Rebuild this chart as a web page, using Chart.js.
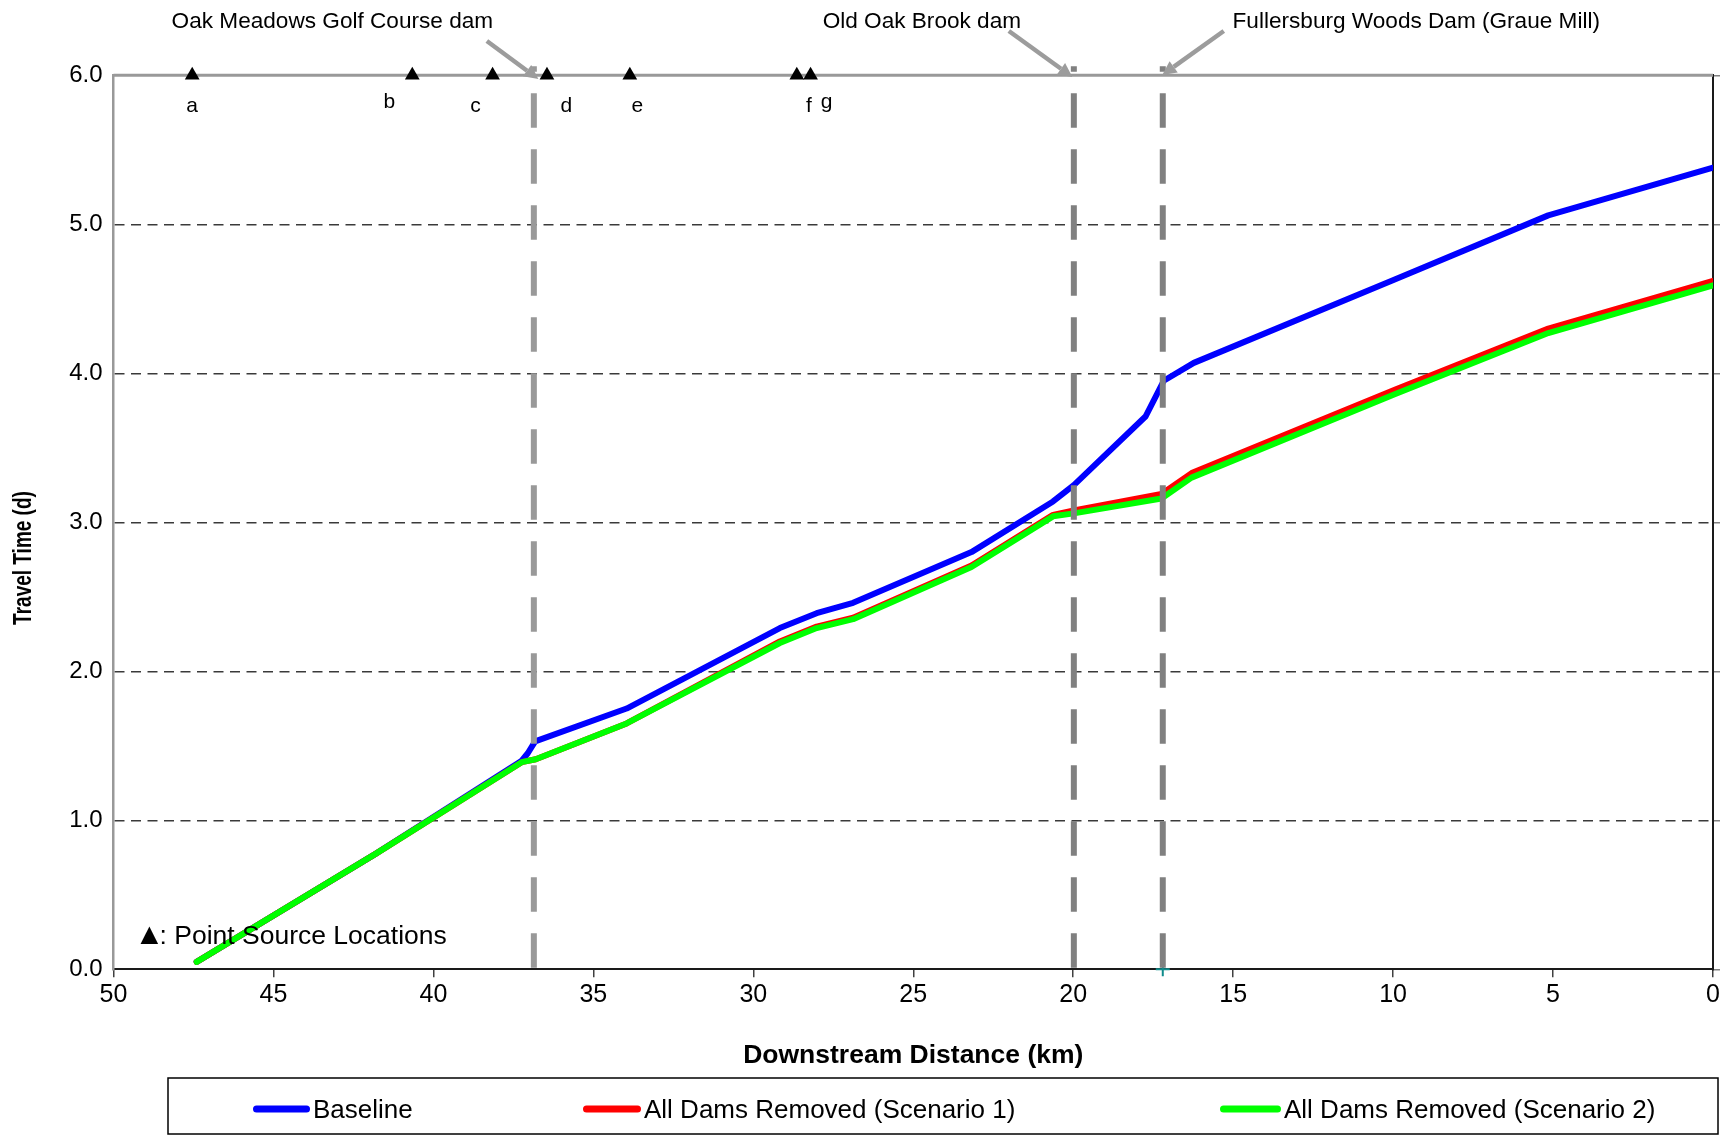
<!DOCTYPE html>
<html>
<head>
<meta charset="utf-8">
<title>Travel Time - Dam Removal Scenarios</title>
<script src="https://cdn.jsdelivr.net/npm/chart.js@4.4.1/dist/chart.umd.min.js"></script>
<style>
    html, body { margin: 0; padding: 0; background: #ffffff; }
    #wrap { width: 1724px; height: 1139px; position: relative; }
</style>
</head>
<body>
<div id="wrap"><canvas id="travelChart"></canvas></div>
<script>
// Travel time along the river: baseline vs. dam removal scenarios

// Baseline (dams in place)
const baselineKm   = [47.4, 41.77, 37.24, 37.05, 36.82, 33.96, 29.17, 28.02, 26.88, 23.18, 20.63, 19.98, 17.74, 17.31, 17.17, 16.23, 9.95, 5.15, 0.0];
const baselineDays = [0.05, 0.78, 1.40, 1.45, 1.53, 1.75, 2.29, 2.39, 2.46, 2.80, 3.14, 3.25, 3.71, 3.89, 3.95, 4.07, 4.63, 5.06, 5.38];

// All dams removed (Scenario 1)
const scen1Km   = [47.4, 41.77, 37.24, 36.8, 33.96, 29.17, 28.02, 26.88, 23.18, 20.63, 19.98, 17.24, 16.3, 9.95, 5.15, 0.0];
const scen1Days = [0.05, 0.78, 1.39, 1.41, 1.65, 2.20, 2.30, 2.36, 2.71, 3.05, 3.08, 3.19, 3.33, 3.89, 4.30, 4.62];

// All dams removed (Scenario 2)
const scen2Km   = [47.4, 41.77, 37.24, 36.8, 33.96, 29.17, 28.02, 26.88, 23.18, 20.63, 19.98, 17.24, 16.3, 9.95, 5.15, 0.0];
const scen2Days = [0.05, 0.78, 1.39, 1.41, 1.65, 2.19, 2.29, 2.35, 2.70, 3.04, 3.06, 3.16, 3.30, 3.86, 4.27, 4.59];

// Point source locations
const sourceKm     = [47.54, 40.66, 38.15, 36.45, 33.86, 28.64, 28.21];
const sourceLabels = ['a', 'b', 'c', 'd', 'e', 'f', 'g'];
const sourceDays   = [6, 6, 6, 6, 6, 6, 6];

// Dams
const damKm    = [36.86, 19.98, 17.2];
const damNames = ['Oak Meadows Golf Course dam', 'Old Oak Brook dam', 'Fullersburg Woods Dam (Graue Mill)'];

// stray marker on the axis at the Fullersburg dam
const markerKm   = [17.2];
const markerDays = [0];

// axis ticks
const xTicks = [50, 45, 40, 35, 30, 25, 20, 15, 10, 5, 0];
const yTicks = [0, 1, 2, 3, 4, 5, 6];

const FONT = "'Liberation Sans', Arial, Helvetica, sans-serif";

function toPoints(xs, ys) {
    return xs.map((x, i) => ({ x: x, y: ys[i] }));
}

function drawArrow(ctx, x0, y0, x1, y1) {
    const ang = Math.atan2(y1 - y0, x1 - x0);
    const head = 14, half = 7;
    const bx = x1 - Math.cos(ang) * head;
    const by = y1 - Math.sin(ang) * head;
    ctx.beginPath();
    ctx.moveTo(x0, y0);
    ctx.lineTo(bx, by);
    ctx.stroke();
    ctx.beginPath();
    ctx.moveTo(x1, y1);
    ctx.lineTo(bx + Math.sin(ang) * half, by - Math.cos(ang) * half);
    ctx.lineTo(bx - Math.sin(ang) * half, by + Math.cos(ang) * half);
    ctx.closePath();
    ctx.fill();
}

// dam lines, arrows, notes, y title and the boxed legend
const overlayPlugin = {
    id: 'overlay',
    beforeDatasetsDraw(chart) {
        const { ctx, chartArea: a } = chart;
        // top frame line at 6.0
        ctx.save();
        ctx.strokeStyle = '#999999';
        ctx.lineWidth = 3;
        ctx.beginPath();
        ctx.moveTo(a.left, a.top);
        ctx.lineTo(a.right, a.top);
        ctx.stroke();
        ctx.restore();
    },
    afterDatasetsDraw(chart) {
        const { ctx, chartArea: a, scales: { x } } = chart;
        const damColors = ['#999999', '#808080', '#808080'];
        const arrows = [[-47, 41, 4.5, 79], [-65, 31, -1.5, 77], [61, 31, -0.5, 75]];
        const textDx = [-201.5, -152, 253.5];

        damKm.forEach((km, i) => {
            const px = x.getPixelForValue(km);
            ctx.save();
            ctx.strokeStyle = damColors[i];
            ctx.lineWidth = 6;
            ctx.setLineDash([34.5, 21.5]);
            ctx.lineDashOffset = 29;
            ctx.beginPath();
            ctx.moveTo(px, a.top - 9);
            ctx.lineTo(px, a.bottom);
            ctx.stroke();
            ctx.restore();

            ctx.save();
            ctx.strokeStyle = '#9c9c9c';
            ctx.fillStyle = '#9c9c9c';
            ctx.lineWidth = 4.5;
            const ar = arrows[i];
            drawArrow(ctx, px + ar[0], ar[1], px + ar[2], ar[3]);
            ctx.restore();

            ctx.save();
            ctx.font = '22.6px ' + FONT;
            ctx.fillStyle = '#000';
            ctx.textAlign = 'center';
            ctx.textBaseline = 'alphabetic';
            ctx.fillText(damNames[i], px + textDx[i], 28);
            ctx.restore();
        });

        // letters under the point source triangles
        const nudge = { a: [0, 0], b: [-23, -3.5], c: [-17, 0], d: [19.5, 0], e: [7.5, 0], f: [12, 0], g: [16, -3.5] };
        ctx.save();
        ctx.font = '21px ' + FONT;
        ctx.fillStyle = '#000';
        ctx.textAlign = 'center';
        ctx.textBaseline = 'alphabetic';
        sourceKm.forEach((km, i) => {
            const n = nudge[sourceLabels[i]];
            ctx.fillText(sourceLabels[i], x.getPixelForValue(km) + n[0], 111.5 + n[1]);
        });
        ctx.restore();

        // point source note
        ctx.save();
        ctx.fillStyle = '#000';
        ctx.textBaseline = 'alphabetic';
        ctx.textAlign = 'left';
        ctx.font = '30px ' + FONT;
        ctx.fillText('\u25B2', a.left + 21, 944);
        ctx.font = '26.5px ' + FONT;
        ctx.fillText(': Point Source Locations', a.left + 46, 944);
        ctx.restore();
    },
    afterDraw(chart) {
        const { ctx } = chart;

        // y axis title (condensed along its length, as in the original)
        ctx.save();
        ctx.font = 'bold 25px ' + FONT;
        ctx.fillStyle = '#000';
        ctx.textAlign = 'center';
        ctx.textBaseline = 'middle';
        ctx.translate(24, 558);
        ctx.rotate(-Math.PI / 2);
        ctx.scale(0.76, 1);
        ctx.fillText('Travel Time (d)', 0, 0);
        ctx.restore();

        // legend box
        const box = { left: 168, top: 1078, right: 1718, bottom: 1134 };
        const lineY = 1109;
        const items = [[253, 310], [583, 641], [1220, 1281]];
        ctx.save();
        ctx.strokeStyle = '#000';
        ctx.lineWidth = 1.5;
        ctx.strokeRect(box.left, box.top, box.right - box.left, box.bottom - box.top);
        ctx.font = '26px ' + FONT;
        ctx.textBaseline = 'middle';
        ctx.textAlign = 'left';
        chart.data.datasets.slice(0, 3).forEach((ds, i) => {
            const it = items[i];
            ctx.strokeStyle = ds.borderColor;
            ctx.lineWidth = 7;
            ctx.lineCap = 'round';
            ctx.beginPath();
            ctx.moveTo(it[0] + 3.5, lineY);
            ctx.lineTo(it[1] - 3.5, lineY);
            ctx.stroke();
            ctx.fillStyle = '#000';
            ctx.fillText(ds.label, it[1] + 3, lineY + 2);
        });
        ctx.restore();
    }
};

const lineStyle = {
    showLine: true,
    borderWidth: 6,
    pointRadius: 0,
    pointHoverRadius: 0,
    borderCapStyle: 'round',
    borderJoinStyle: 'round',
    tension: 0
};

const ctx = document.getElementById('travelChart').getContext('2d');
const travelChart = new Chart(ctx, {
    type: 'scatter',
    data: {
        datasets: [
            Object.assign({
                label: 'Baseline',
                data: toPoints(baselineKm, baselineDays),
                borderColor: '#0000ff',
                backgroundColor: '#0000ff',
                order: 3
            }, lineStyle),
            Object.assign({
                label: 'All Dams Removed (Scenario 1)',
                data: toPoints(scen1Km, scen1Days),
                borderColor: '#ff0000',
                backgroundColor: '#ff0000',
                order: 2
            }, lineStyle),
            Object.assign({
                label: 'All Dams Removed (Scenario 2)',
                data: toPoints(scen2Km, scen2Days),
                borderColor: '#00ff00',
                backgroundColor: '#00ff00',
                order: 1
            }, lineStyle),
            {
                label: 'Point sources',
                data: toPoints(sourceKm, sourceDays),
                showLine: false,
                pointStyle: 'triangle',
                pointRadius: 8.5,
                backgroundColor: '#000000',
                borderColor: '#000000',
                borderWidth: 0,
                clip: false,
                order: 0
            },
            {
                label: 'marker',
                data: toPoints(markerKm, markerDays),
                showLine: false,
                pointStyle: 'cross',
                pointRadius: 7,
                borderColor: '#108c8c',
                borderWidth: 2,
                clip: false,
                order: 0
            }
        ]
    },
    options: {
        responsive: true,
        maintainAspectRatio: false,
        animation: false,
        events: [],
        layout: {
            padding: { left: 0, right: 0, top: 75.3, bottom: 66.7 }
        },
        plugins: {
            legend: { display: false },
            tooltip: { enabled: false },
            title: { display: false }
        },
        scales: {
            x: {
                type: 'linear',
                position: 'bottom',
                reverse: true,
                min: 0,
                max: 50,
                afterBuildTicks: s => { s.ticks = xTicks.map(v => ({ value: v })); },
                afterFit: s => { s.height = 103; },
                grid: { drawOnChartArea: false, drawTicks: true, tickLength: 8, color: '#404040', lineWidth: 1.5 },
                border: { color: '#1a1a1a', width: 2 },
                ticks: { font: { family: FONT, size: 25 }, color: '#000', padding: 3, maxRotation: 0, autoSkip: false },
                title: {
                    display: true,
                    text: 'Downstream Distance (km)',
                    font: { family: FONT, size: 26.5, weight: 'bold' },
                    color: '#000',
                    padding: { top: 0, bottom: 1 }
                }
            },
            y: {
                type: 'linear',
                position: 'left',
                min: 0,
                max: 6,
                afterBuildTicks: s => { s.ticks = yTicks.map(v => ({ value: v })); },
                afterFit: s => { s.width = 113.5; },
                grid: {
                    drawTicks: false,
                    lineWidth: 1.5,
                    color: c => (c.tick && (c.tick.value === 0 || c.tick.value === 6)) ? 'rgba(0,0,0,0)' : '#3a3a3a'
                },
                border: { color: '#999999', width: 2.5, dash: [10, 6.5] },
                ticks: { callback: v => v.toFixed(1), font: { family: FONT, size: 24 }, color: '#000', padding: 11 },
                title: { display: false }
            },
            y2: {
                type: 'linear',
                position: 'right',
                min: 0,
                max: 6,
                afterBuildTicks: s => { s.ticks = yTicks.map(v => ({ value: v })); },
                afterFit: s => { s.width = 11; },
                grid: { drawOnChartArea: false, drawTicks: true, tickLength: 7, color: '#808080', lineWidth: 1.5 },
                border: { color: '#1a1a1a', width: 2 },
                ticks: { display: false }
            }
        }
    },
    plugins: [overlayPlugin]
});
</script>
</body>
</html>
